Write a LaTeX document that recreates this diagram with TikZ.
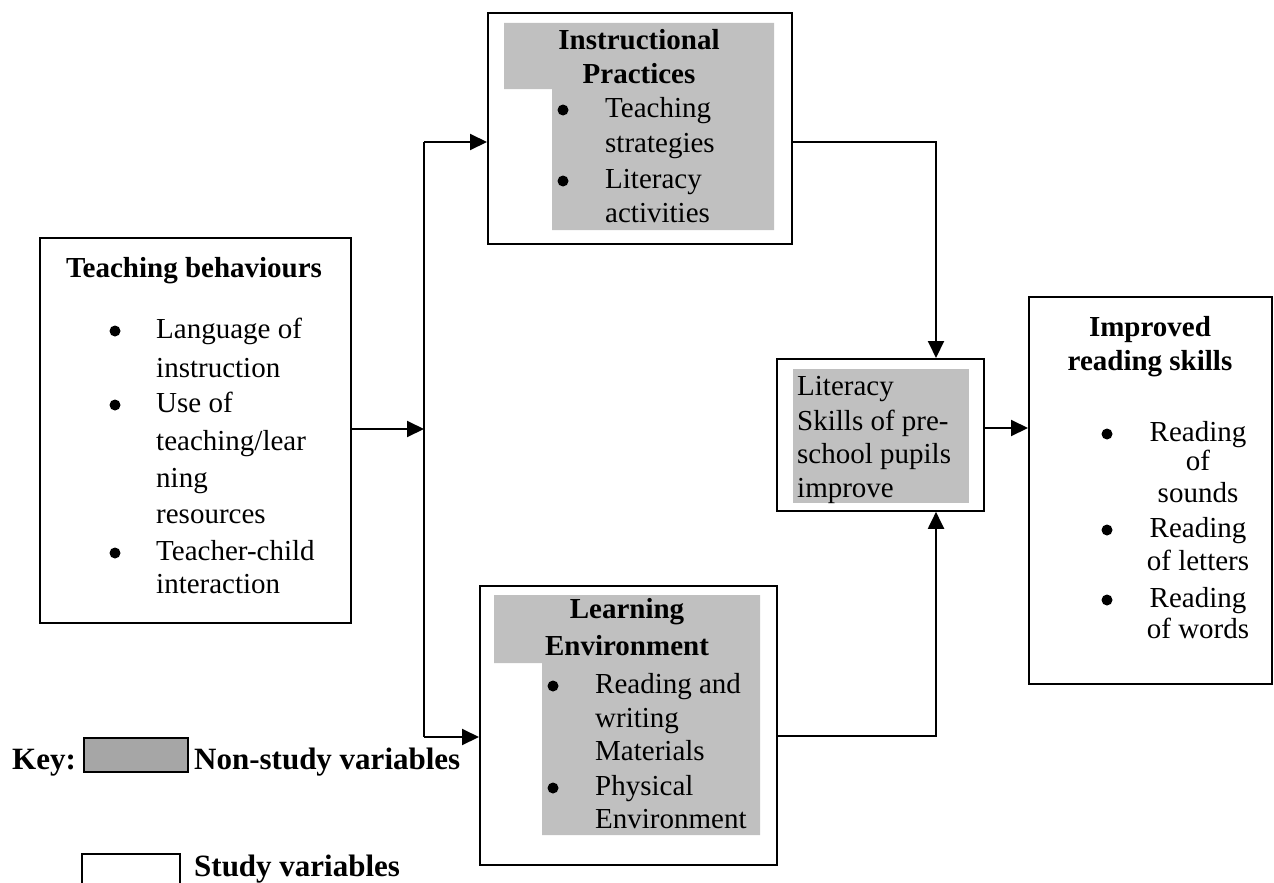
\documentclass[tikz,border=0pt]{standalone}
\usepackage{fontspec}
\setmainfont{Liberation Serif}
\usetikzlibrary{arrows.meta}
\definecolor{shadegray}{HTML}{C0C0C0}
\definecolor{keygray}{HTML}{A6A6A6}
\begin{document}
\begin{tikzpicture}[x=1pt,y=-1pt,
  box/.style={draw, line width=1.8pt, inner sep=0pt, anchor=north west},
  arr/.style={line width=2pt, -{Triangle[length=17pt,width=16pt]}},
  ln/.style={line width=2pt},
  shade/.style={fill=shadegray},
  txt/.style={anchor=base west, inner sep=0pt, font=\fontsize{29}{35}\selectfont},
  ctxt/.style={anchor=base, inner sep=0pt, font=\fontsize{29}{35}\selectfont},
  head/.style={anchor=base, inner sep=0pt, font=\fontsize{29}{35}\selectfont\bfseries},
  bul/.style={circle, fill=black, inner sep=0pt, minimum size=11pt, yshift=7pt},
  keytxt/.style={anchor=base west, inner sep=0pt, font=\fontsize{31}{37}\selectfont\bfseries}]
\useasboundingbox (0,0) rectangle (1274,883);

% boxes
\node[box, minimum width=311pt, minimum height=385pt] (tb) at (39,237) {};
\node[box, minimum width=304pt, minimum height=231pt] (ip) at (487,12) {};
\node[box, minimum width=297pt, minimum height=279pt] (le) at (479,585) {};
\node[box, minimum width=207pt, minimum height=152pt] (lit) at (776,358) {};
\node[box, minimum width=243pt, minimum height=387pt] (ir) at (1028,296) {};

% grey (non-study) fills
\fill[shade] (504,23) -- (774,23) -- (774,230) -- (552,230) -- (552,89) -- (504,89) -- cycle;
\fill[shade] (494,595) -- (760,595) -- (760,835) -- (542,835) -- (542,663) -- (494,663) -- cycle;
\fill[shade] (793,369) rectangle (969,503);

% Teaching behaviours
\node[head] (tbh) at (194,277) {Teaching behaviours};
\node[bul] (tbb1) at (115,338) {};
\node[bul] (tbb2) at (115,412) {};
\node[bul] (tbb3) at (115,560) {};
\node[txt] (tbt1) at (156,338) {Language of};
\node[txt] (tbt2) at (156,377) {instruction};
\node[txt] (tbt3) at (156,412) {Use of};
\node[txt] (tbt4) at (156,450) {teaching/lear};
\node[txt] (tbt5) at (156,487) {ning};
\node[txt] (tbt6) at (156,523) {resources};
\node[txt] (tbt7) at (156,560) {Teacher-child};
\node[txt] (tbt8) at (156,593) {interaction};

% Instructional Practices
\node[head] (iph1) at (639,50) {Instructional};
\node[head] (iph2) at (639,83) {Practices};
\node[bul] (ipb1) at (563,117) {};
\node[bul] (ipb2) at (563,188) {};
\node[txt] (ipt1) at (605,117) {Teaching};
\node[txt] (ipt2) at (605,152) {strategies};
\node[txt] (ipt3) at (605,188) {Literacy};
\node[txt] (ipt4) at (605,222) {activities};

% Learning Environment
\node[head] (leh1) at (627,618) {Learning};
\node[head] (leh2) at (627,655) {Environment};
\node[bul] (leb1) at (553,693) {};
\node[bul] (leb2) at (553,795) {};
\node[txt] (let1) at (595,693) {Reading and};
\node[txt] (let2) at (595,727) {writing};
\node[txt] (let3) at (595,760) {Materials};
\node[txt] (let4) at (595,795) {Physical};
\node[txt] (let5) at (595,828) {Environment};

% Literacy skills
\node[txt] (lt1) at (797,395) {Literacy};
\node[txt] (lt2) at (797,430) {Skills of pre-};
\node[txt] (lt3) at (797,463) {school pupils};
\node[txt] (lt4) at (797,497) {improve};

% Improved reading skills
\node[head] (irh1) at (1150,336) {Improved};
\node[head] (irh2) at (1150,370) {reading skills};
\node[bul] (irb1) at (1107,441) {};
\node[bul] (irb2) at (1107,537) {};
\node[bul] (irb3) at (1107,607) {};
\node[ctxt] (irt1) at (1198,441) {Reading};
\node[ctxt] (irt2) at (1198,470) {of};
\node[ctxt] (irt3) at (1198,502) {sounds};
\node[ctxt] (irt4) at (1198,537) {Reading};
\node[ctxt] (irt5) at (1198,570) {of letters};
\node[ctxt] (irt6) at (1198,607) {Reading};
\node[ctxt] (irt7) at (1198,638) {of words};

% connectors
\coordinate (jm) at (424,429);
\coordinate (jt) at (424,142);
\coordinate (jb) at (424,737);
\coordinate (c1) at (936,142);
\coordinate (c2) at (936,736);
\coordinate (c3) at (1005,428);
\draw[arr] (jm -| tb.east) -- (jm);
\draw[ln] (jt) -- (jb);
\draw[arr] (jt) -- (jt -| ip.west);
\draw[arr] (jb) -- (jb -| le.west);
\draw[arr] (c1 -| ip.east) -- (c1) -- (c1 |- lit.north);
\draw[arr] (c2 -| le.east) -- (c2) -- (c2 |- lit.south);
\draw[arr] (c3 -| lit.east) -- (c3 -| ir.west);

% key
\node[keytxt] (key) at (12,769) {Key:};
\node[draw, line width=1.5pt, fill=keygray, inner sep=0pt, anchor=north west,
      minimum width=104pt, minimum height=34pt] (kg) at (83,737) {};
\node[keytxt] (kgt) at (194,769) {Non-study variables};
\coordinate (kw1) at (82,883);
\coordinate (kw2) at (180,883);
\draw[line width=1.5pt] (kw1) -- (kw1 |- 0,854) -- (kw2 |- 0,854) -- (kw2);
\node[keytxt] (kwt) at (194,876) {Study variables};
\end{tikzpicture}
\end{document}
